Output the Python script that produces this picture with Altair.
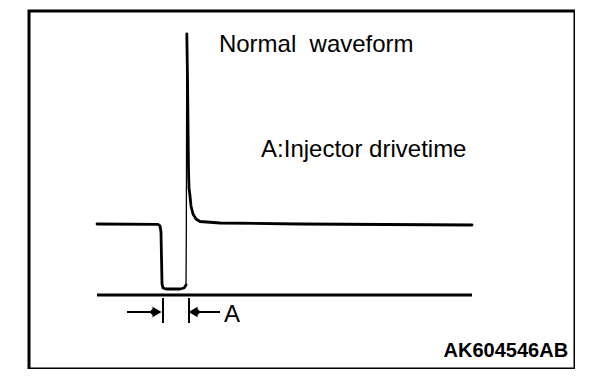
import altair as alt
import pandas as pd

# ---- data (time in arbitrary units, voltage in V) ----
# segment 0: supply level + drive (thick), 1: rising edge (thin), 2: spike decay (thick)
wave_t = [0.000, 1.301, 1.344, 1.365, 1.387, 1.408, 1.472, 1.771, 1.856, 1.899,
          1.899, 1.905, 1.916,
          1.916, 1.931, 1.952, 1.963, 1.984, 2.005, 2.048, 2.112, 2.197,
          2.624, 4.331, 8.000]
wave_v = [12.17, 12.09, 11.83, 10.80, 1.89, 1.20, 1.03, 1.03, 1.20, 1.71,
          1.71, 9.43, 44.74,
          44.74, 36.86, 21.43, 18.34, 16.97, 15.26, 13.89, 13.03, 12.60,
          12.34, 12.17, 12.00]
wave_seg = [0] * 10 + [1] * 3 + [2] * 12

ground_t = [0.0, 8.0]
ground_v = [0.0, 0.0]

# dimension marker A (arrows and ticks)
arrow_t1 = [0.64, 1.984]
arrow_t2 = [1.344, 2.624]
arrow_v = [-2.91, -2.91]
head_t = [1.28, 2.05]
head_shape = ["triangle-right", "triangle-left"]
dot_t = [1.20, 2.13]
tick_t = [1.408, 1.963]
tick_v1 = [-0.51, -0.51]
tick_v2 = [-4.80, -4.80]

labels = ["Normal\u00a0\u00a0waveform", "A:Injector drivetime", "A"]
label_t = [2.60, 3.50, 2.71]
label_v = [41.66, 23.66, -4.63]

code_label = ["AK604546AB"]
code_t = [10.05]
code_v = [-10.63]

# ---- layout (scale mapping) ----
PX_T = 46.875
PX_V = 5.8333
W, H = 546, 358
T_MIN = (29 - 97) / PX_T
T_MAX = T_MIN + W / PX_T
V_MAX = (295 - 11) / PX_V
V_MIN = V_MAX - H / PX_V

xs = alt.Scale(domain=[T_MIN, T_MAX], nice=False, zero=False)
ys = alt.Scale(domain=[V_MIN, V_MAX], nice=False, zero=False)

wave = pd.DataFrame({
    "t": wave_t, "v": wave_v, "o": list(range(len(wave_t))),
    "seg": wave_seg, "w": [1.3 if s == 1 else 2.8 for s in wave_seg],
})
ground = pd.DataFrame({"t": ground_t, "v": ground_v})
arrows = pd.DataFrame({"t1": arrow_t1, "t2": arrow_t2, "v": arrow_v})
heads = pd.DataFrame({"t": head_t, "v": arrow_v, "s": head_shape})
dots = pd.DataFrame({"t": dot_t, "v": arrow_v})
ticks = pd.DataFrame({"t": tick_t, "v1": tick_v1, "v2": tick_v2})
texts = pd.DataFrame({"t": label_t, "v": label_v, "label": labels})
code = pd.DataFrame({"t": code_t, "v": code_v, "label": code_label})

wave_layer = alt.Chart(wave).mark_line(color="black", strokeJoin="round", strokeCap="round").encode(
    x=alt.X("t:Q", scale=xs, axis=None),
    y=alt.Y("v:Q", scale=ys, axis=None),
    detail="seg:N",
    strokeWidth=alt.StrokeWidth("w:Q", scale=None, legend=None),
    order="o:Q",
)
ground_layer = alt.Chart(ground).mark_line(color="black", strokeWidth=3).encode(
    x=alt.X("t:Q", scale=xs, axis=None),
    y=alt.Y("v:Q", scale=ys, axis=None),
)
arrow_layer = alt.Chart(arrows).mark_rule(color="black", strokeWidth=2).encode(
    x=alt.X("t1:Q", scale=xs, axis=None),
    x2="t2:Q",
    y=alt.Y("v:Q", scale=ys, axis=None),
)
head_layer = alt.Chart(heads).mark_point(filled=True, color="black", size=110, opacity=1).encode(
    x=alt.X("t:Q", scale=xs, axis=None),
    y=alt.Y("v:Q", scale=ys, axis=None),
    shape=alt.Shape("s:N", scale=None, legend=None),
)
dot_layer = alt.Chart(dots).mark_point(filled=True, color="black", size=30, opacity=1, shape="circle").encode(
    x=alt.X("t:Q", scale=xs, axis=None),
    y=alt.Y("v:Q", scale=ys, axis=None),
)
tick_layer = alt.Chart(ticks).mark_rule(color="black", strokeWidth=2).encode(
    x=alt.X("t:Q", scale=xs, axis=None),
    y=alt.Y("v1:Q", scale=ys, axis=None),
    y2="v2:Q",
)
text_layer = alt.Chart(texts).mark_text(
    font="Liberation Sans", fontSize=24, align="left", baseline="alphabetic", color="black"
).encode(
    x=alt.X("t:Q", scale=xs, axis=None),
    y=alt.Y("v:Q", scale=ys, axis=None),
    text="label:N",
)
code_layer = alt.Chart(code).mark_text(
    font="Liberation Sans", fontSize=20, fontWeight="bold", align="right",
    baseline="alphabetic", color="black"
).encode(
    x=alt.X("t:Q", scale=xs, axis=None),
    y=alt.Y("v:Q", scale=ys, axis=None),
    text="label:N",
)

chart = alt.layer(
    ground_layer, wave_layer, arrow_layer, dot_layer, head_layer, tick_layer, text_layer, code_layer
).properties(
    width=W,
    height=H,
    autosize=alt.AutoSizeParams(type="none"),
    padding={"left": 21, "top": 3, "right": 0, "bottom": 0},
    background="white",
).configure_view(
    stroke="black", strokeWidth=3
)

chart.save("out.html", embed_options={"renderer": "svg", "actions": False})
